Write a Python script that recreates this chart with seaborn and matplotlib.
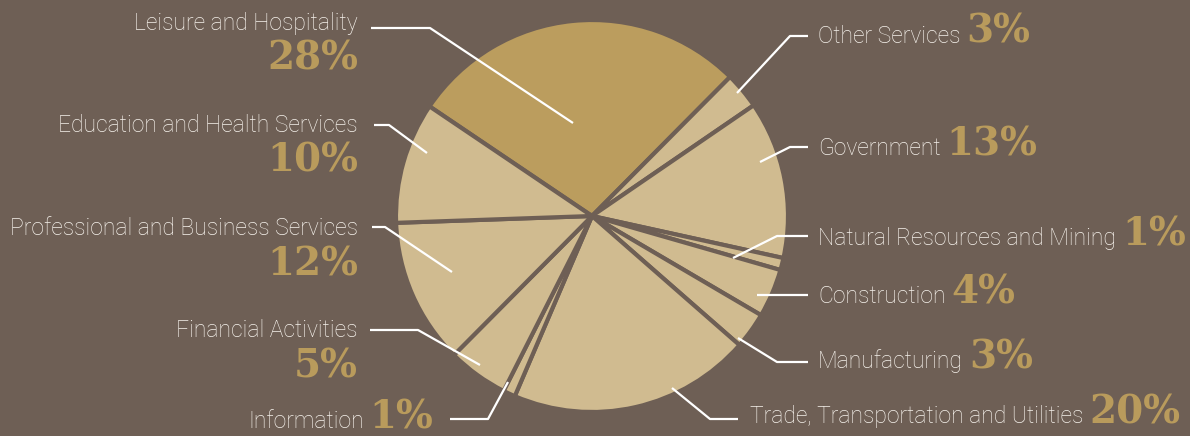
import matplotlib
matplotlib.use("Agg")
import matplotlib.pyplot as plt
import seaborn as sns

# employment share by sector (clockwise from the top-left)
sectors = ['Leisure and Hospitality', 'Other Services', 'Government',
           'Natural Resources and Mining', 'Construction', 'Manufacturing',
           'Trade, Transportation and Utilities', 'Information',
           'Financial Activities', 'Professional and Business Services',
           'Education and Health Services']
shares = [28, 3, 13, 1, 4, 3, 20, 1, 5, 12, 10]
pct_labels = [f'{s}%' for s in shares]

bg = '#6e5f55'
gold = '#bb9d5e'
sand = '#d0bb90'
pct_color = '#b99b5c'
txt_color = '#f6f2ec'

sns.set_theme(style='white', rc={'figure.facecolor': bg, 'axes.facecolor': bg})
plt.rcParams['font.family'] = ['Roboto', 'DejaVu Sans']

W, H = 1190, 436
fig = plt.figure(figsize=(W / 100, H / 100), dpi=100)
ax = fig.add_axes([0, 0, 1, 1])

colors = [gold] + [sand] * (len(shares) - 1)
wedges, _ = ax.pie(shares, colors=colors, startangle=146, counterclock=False,
                   center=(592, H - 216), radius=196,
                   wedgeprops=dict(edgecolor=bg, linewidth=3))
ax.set_xlim(0, W)
ax.set_ylim(0, H)
ax.set_aspect('auto')
ax.axis('off')

# label layout in pixels (y from the top): side, leader points, text x, name baseline, pct baseline
layout = {
    'Leisure and Hospitality': ('left', [(573, 123), (430, 28), (371, 28)], 358, 30, 70),
    'Other Services': ('right', [(737, 93), (790, 36), (808, 36)], 818, 43, None),
    'Government': ('right', [(760, 162), (790, 147), (808, 147)], 818, 155, None),
    'Natural Resources and Mining': ('right', [(733, 258), (777, 236), (808, 236)], 818, 245, None),
    'Construction': ('right', [(757, 295), (808, 295)], 818, 303, None),
    'Manufacturing': ('right', [(738, 338), (777, 362), (808, 362)], 818, 368, None),
    'Trade, Transportation and Utilities': ('right', [(672, 388), (710, 419), (738, 419)], 750, 423, None),
    'Information': ('right', [(508, 382), (488, 419), (450, 419)], 248, 428, None),
    'Financial Activities': ('left', [(480, 365), (418, 330), (370, 330)], 358, 337, 377),
    'Professional and Business Services': ('left', [(452, 272), (385, 227), (372, 227)], 358, 235, 275),
    'Education and Health Services': ('left', [(427, 153), (389, 125), (374, 125)], 358, 132, 172),
}

name_kw = dict(color=txt_color, fontsize=16.5, fontweight='light')
pct_kw = dict(color=pct_color, fontsize=28, fontweight='bold', family='DejaVu Serif')

fig.canvas.draw()
renderer = fig.canvas.get_renderer()

for name, pct in zip(sectors, pct_labels):
    side, pts, tx, nb, pb = layout[name]
    xs = [p[0] for p in pts]
    ys = [H - p[1] for p in pts]
    ax.plot(xs, ys, color='white', lw=1.6, solid_capstyle='butt')
    if side == 'left':
        ax.text(tx, H - nb, name, ha='right', va='baseline', **name_kw)
        ax.text(tx, H - pb, pct, ha='right', va='baseline', **pct_kw)
    else:
        t = ax.text(tx, H - nb, name, ha='left', va='baseline', **name_kw)
        bb = t.get_window_extent(renderer)
        ax.text(bb.x1 + 6, H - nb, pct, ha='left', va='baseline', **pct_kw)

fig.savefig('out.png', dpi=100, facecolor=bg)
